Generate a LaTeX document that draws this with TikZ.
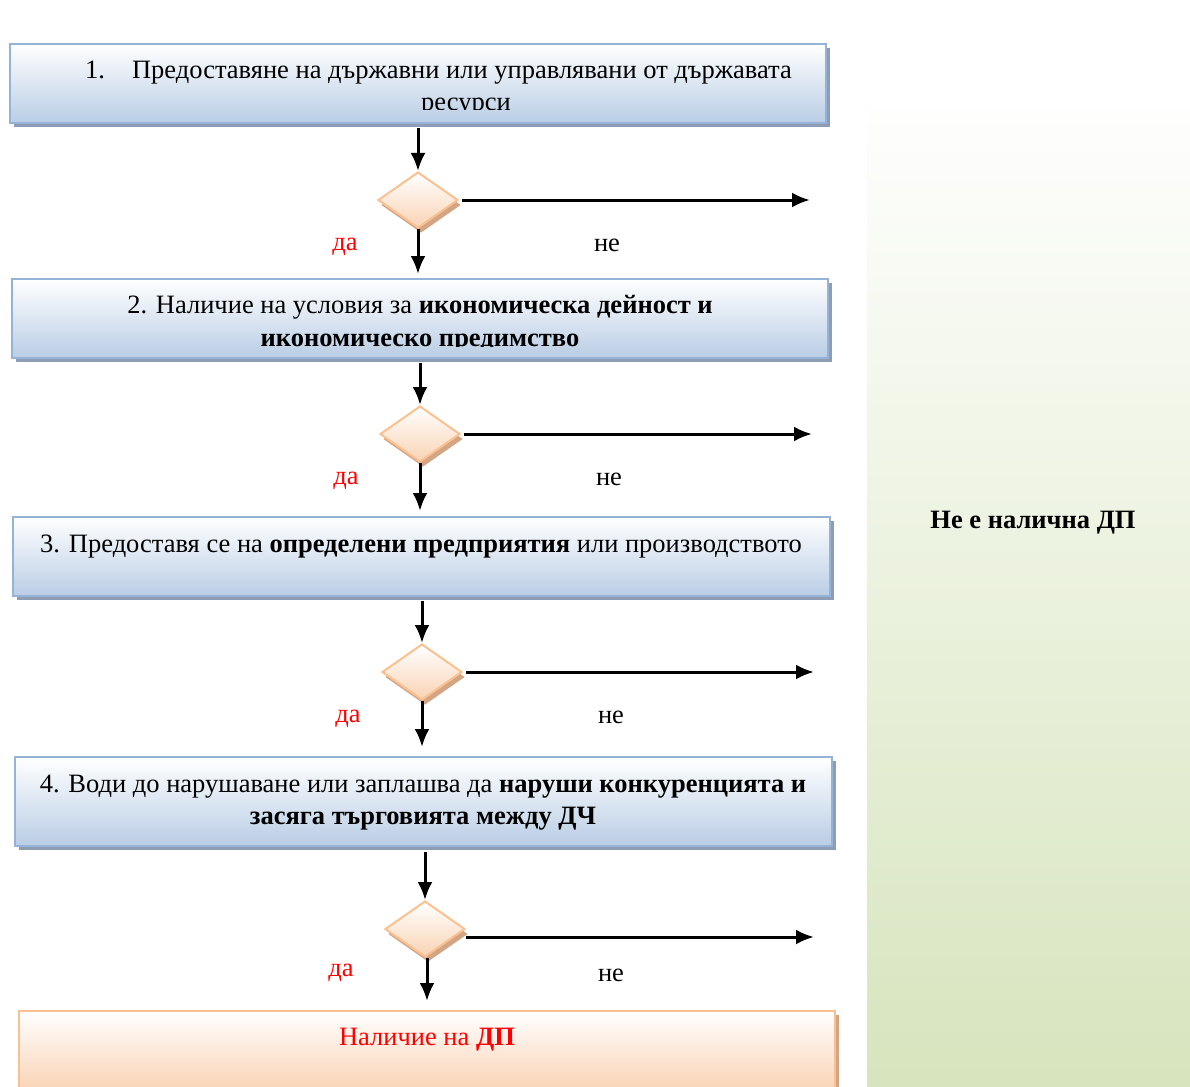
\documentclass[tikz,border=0pt]{standalone}
\usepackage{fontspec}
\setmainfont{Liberation Serif}
\usetikzlibrary{shapes.geometric,shadows,arrows.meta}
\definecolor{boxblue}{HTML}{B9CDE5}
\definecolor{edgeblue}{HTML}{95B3D7}
\definecolor{shblue}{HTML}{8E9DB3}
\definecolor{orangeedge}{HTML}{FAC090}
\definecolor{orangefill}{HTML}{F9D3B4}
\definecolor{shorange}{HTML}{D4A584}
\definecolor{panelgreen}{HTML}{D7E4BD}
\definecolor{yesred}{HTML}{FF0000}
\tikzset{
  bluebox/.style={rectangle, draw=edgeblue, line width=2pt, top color=white, bottom color=boxblue, inner sep=0pt,
    general shadow={fill=shblue, shadow xshift=4pt, shadow yshift=-4pt}},
  orangebox/.style={rectangle, draw=orangeedge, line width=2pt, top color=white, bottom color=orangefill, inner sep=0pt,
    general shadow={fill=shorange, shadow xshift=4pt, shadow yshift=-4pt}},
  decision/.style={diamond, draw=orangeedge, line width=2pt, top color=white, bottom color=orangefill, inner sep=0pt,
    minimum width=80pt, minimum height=56pt,
    general shadow={fill=shorange, shadow xshift=3pt, shadow yshift=-5pt}},
  txt/.style={inner sep=0pt, font=\fontsize{26.5}{32}\selectfont},
  yes/.style={txt, text=yesred},
  no/.style={txt, text=black},
  arr/.style={line width=3pt, -{Latex[length=18pt,width=15pt]}},
}
\begin{document}
\begin{tikzpicture}[x=1pt,y=-1pt]
\useasboundingbox (0,0) rectangle (1190,1086);
% right panel
\node[rectangle, inner sep=0pt, minimum width=323pt, minimum height=999pt, top color=white, bottom color=panelgreen] (panel) at (1028.5,586.5) {};
\node[txt, font=\fontsize{26.5}{32}\selectfont\bfseries] (panelt) at (1033,523) {Не е налична ДП};

% boxes
\node[bluebox, minimum width=816pt, minimum height=79pt] (b1) at (418,83.5) {};
\node[bluebox, minimum width=816pt, minimum height=79pt] (b2) at (420,318.5) {};
\node[bluebox, minimum width=817pt, minimum height=79pt] (b3) at (421.5,556.5) {};
\node[bluebox, minimum width=817pt, minimum height=89pt] (b4) at (423.5,801.5) {};
\node[orangebox, minimum width=816pt, minimum height=80pt] (b5) at (427,1051) {};

% texts
\begin{scope}
\clip (10,44) rectangle (826,110);
\node[txt, anchor=base west] (t1a) at (85,79) {1.\hspace{27pt}Предоставяне на държавни или управлявани от държавата};
\node[txt, anchor=base] (t1b) at (466,111) {ресурси};
\end{scope}
\begin{scope}
\clip (12,279) rectangle (828,346);
\node[txt, anchor=base] (t2a) at (420,313) {2. Наличие на условия за \textbf{икономическа дейност и}};
\node[txt, anchor=base] (t2b) at (420,346) {\textbf{икономическо предимство}};
\end{scope}
\node[txt, anchor=base] (t3) at (421,552) {3. Предоставя се на \textbf{определени предприятия} или производството};
\node[txt, anchor=base] (t4a) at (423,792) {4. Води до нарушаване или заплашва да \textbf{наруши конкуренцията и}};
\node[txt, anchor=base] (t4b) at (423,824) {\textbf{засяга търговията между ДЧ}};
\node[txt, anchor=base, text=yesred] (t5) at (427,1045) {Наличие на \textbf{ДП}};

% diamonds
\node[decision] (d1) at (418,200) {};
\node[decision] (d2) at (420,434) {};
\node[decision] (d3) at (422,672) {};
\node[decision] (d4) at (425,929) {};

% free ends
\coordinate (e1) at (810,200);
\coordinate (e2) at (812,434);
\coordinate (e3) at (814,672);
\coordinate (e4) at (814,937);

% connectors
\draw[arr] ([yshift=-4pt]b1.south -| d1.north) -- (d1.north);
\draw[arr] (d1.south) -- ([yshift=4pt]d1.south |- b2.north);
\draw[arr] ([xshift=3pt]d1.east) -- (e1);
\draw[arr] ([yshift=-4pt]b2.south -| d2.north) -- (d2.north);
\draw[arr] (d2.south) -- ([yshift=5pt]d2.south |- b3.north);
\draw[arr] ([xshift=3pt]d2.east) -- (e2);
\draw[arr] ([yshift=-4pt]b3.south -| d3.north) -- (d3.north);
\draw[arr] (d3.south) -- ([yshift=9pt]d3.south |- b4.north);
\draw[arr] ([xshift=3pt]d3.east) -- (e3);
\draw[arr] ([yshift=-5pt]b4.south -| d4.north) -- (d4.north);
\draw[arr] ([xshift=2pt]d4.south) -- ([xshift=2pt,yshift=9pt]d4.south |- b5.north);
\draw[arr] ([yshift=-8pt]d4.east) -- (e4);

% labels
\node[yes] (y1) at (345,247) {да};
\node[no] (n1) at (607,245) {не};
\node[yes] (y2) at (346,481) {да};
\node[no] (n2) at (609,479) {не};
\node[yes] (y3) at (348,719) {да};
\node[no] (n3) at (611,717) {не};
\node[yes] (y4) at (341,973) {да};
\node[no] (n4) at (611,975) {не};
\end{tikzpicture}
\end{document}
